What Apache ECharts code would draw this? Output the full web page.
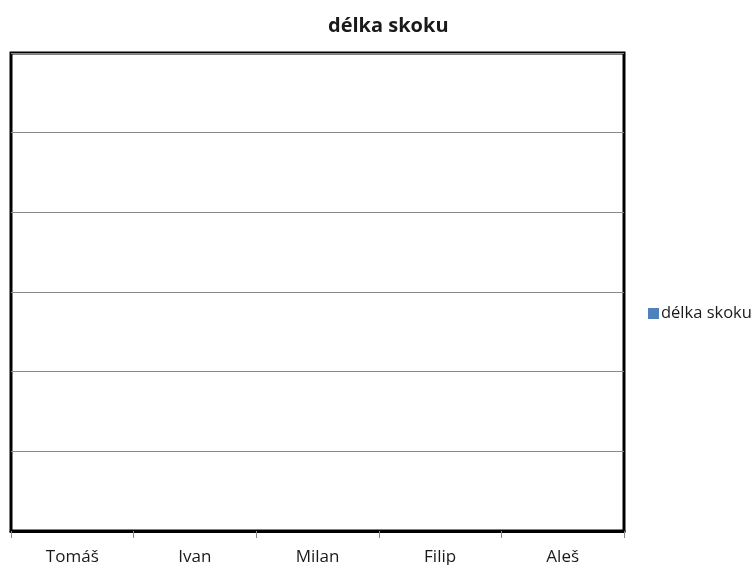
<!DOCTYPE html>
<html><head><meta charset="utf-8">
<script src="https://cdn.jsdelivr.net/npm/echarts@6/dist/echarts.min.js"></script>
<style>html,body{margin:0;padding:0;background:#fff}#c{width:755px;height:565px}</style>
</head><body><div id="c"></div>
<script>
const categories = ["Tomáš", "Ivan", "Milan", "Filip", "Aleš"];
const seriesName = "délka skoku";
const values = [null, null, null, null, null];
const yMin = 0, yMax = 6, yInterval = 1;

const chart = echarts.init(document.getElementById('c'));
chart.setOption({
  animation: false,
  title: {
    text: seriesName, left: 323, top: 11,
    textStyle: { fontFamily: 'Open Sans', fontSize: 20, fontWeight: 'bold', color: '#1a1a1a' }
  },
  legend: {
    orient: 'vertical', left: 643, top: 300,
    icon: 'rect', itemWidth: 11, itemHeight: 11, itemGap: 4,
    textStyle: { fontFamily: 'Open Sans', fontSize: 16.5, color: '#1a1a1a', padding: [0, 0, 0, -3] },
    data: [seriesName]
  },
  grid: {
    left: 11, right: 131, top: 53, bottom: 34,
    outerBoundsMode: 'none', containLabel: false,
    show: true, borderColor: '#000', borderWidth: 3, backgroundColor: '#fff'
  },
  xAxis: {
    type: 'category', data: categories, boundaryGap: true,
    axisLine: { show: true, lineStyle: { color: '#000', width: 3 } },
    axisTick: { show: true, length: 7, lineStyle: { color: '#888' } },
    axisLabel: { fontFamily: 'Open Sans', fontSize: 17, color: '#1a1a1a', margin: 18 }
  },
  yAxis: {
    type: 'value', min: yMin, max: yMax, interval: yInterval,
    axisLine: { show: false }, axisTick: { show: false }, axisLabel: { show: false },
    splitLine: { lineStyle: { color: '#888', width: 1.2 } }
  },
  series: [{
    name: seriesName, type: 'bar', data: values,
    itemStyle: { color: '#4F81BD' }
  }]
});
</script></body></html>
